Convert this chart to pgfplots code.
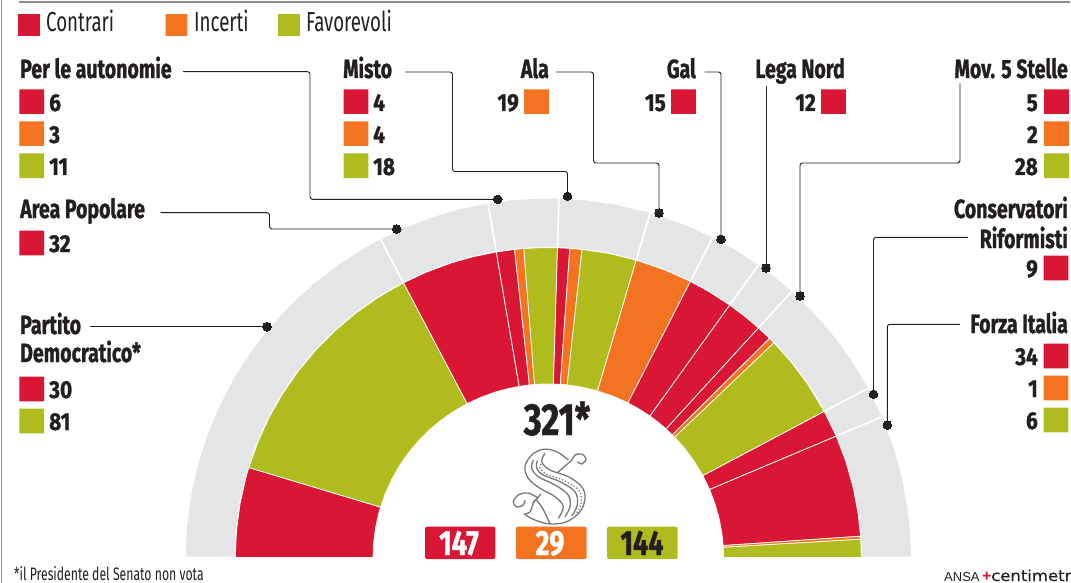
\documentclass[border=0pt]{standalone}
\usepackage{pgfplots}
\pgfplotsset{compat=1.18}
\usepackage{fontspec}
\setmainfont{Fira Sans}
\newfontfamily\lab[FakeStretch=0.74,FakeBold=1]{Fira Sans Bold}
\newfontfamily\numf[FakeStretch=0.85,FakeBold=1]{Fira Sans Bold}
\newfontfamily\reg[FakeStretch=0.68]{Fira Sans}
\newfontfamily\bignum[FakeStretch=0.77,FakeBold=1]{Fira Sans Bold}
\newfontfamily\ansa{Liberation Sans}
\newfontfamily\centi[FakeStretch=1.1,FakeBold=0.5]{DejaVu Sans}
\definecolor{cR}{HTML}{D91734}
\definecolor{cO}{HTML}{F47321}
\definecolor{cG}{HTML}{B0BB1E}
\definecolor{cB}{HTML}{E4E5E7}
\definecolor{ink}{HTML}{231F20}
\definecolor{frame}{HTML}{8C8C8C}
\definecolor{logo}{HTML}{787878}
\pgfdeclareplotmark{rsq}{%
  \pgfsetcornersarced{\pgfpoint{3.5pt}{3.5pt}}%
  \pgfpathmoveto{\pgfpoint{0pt}{-\pgfplotmarksize}}%
  \pgfpathlineto{\pgfpoint{\pgfplotmarksize}{-\pgfplotmarksize}}%
  \pgfpathlineto{\pgfpoint{\pgfplotmarksize}{\pgfplotmarksize}}%
  \pgfpathlineto{\pgfpoint{-\pgfplotmarksize}{\pgfplotmarksize}}%
  \pgfpathlineto{\pgfpoint{-\pgfplotmarksize}{-\pgfplotmarksize}}%
  \pgfpathclose
  \pgfusepathqfill}
\newcommand{\LL}[3]{\node[anchor=base west,inner sep=0pt,text=ink,font=\lab\fontsize{26.4}{26.4}\selectfont] at (axis cs:#1,#2) {#3};}
\newcommand{\LR}[3]{\node[anchor=base east,inner sep=0pt,text=ink,font=\lab\fontsize{26.4}{26.4}\selectfont] at (axis cs:#1,#2) {#3};}
\newcommand{\NL}[3]{\node[anchor=base west,inner sep=0pt,text=ink,font=\numf\fontsize{24.5}{24.5}\selectfont] at (axis cs:#1,#2) {#3};}
\newcommand{\NR}[3]{\node[anchor=base east,inner sep=0pt,text=ink,font=\numf\fontsize{24.5}{24.5}\selectfont] at (axis cs:#1,#2) {#3};}
\begin{document}
\begin{tikzpicture}[x=1pt,y=1pt]
\path[use as bounding box] (0,0) rectangle (1071,583);
\clip (0,0) rectangle (1071,583);
\begin{axis}[at={(0,0)},anchor=south west,x=1pt,y=0.99pt,hide axis,
  xmin=-548.3,xmax=522.7,ymin=-25.76,ymax=563.13,clip=true,
  gb/.style={data cs=polar,fill=cB,draw=white,line width=1.6pt,forget plot},
  wR/.style={data cs=polar,fill=cR,draw=white,line width=0.75pt,forget plot},
  wO/.style={data cs=polar,fill=cO,draw=white,line width=0.75pt,forget plot},
  wG/.style={data cs=polar,fill=cG,draw=white,line width=0.75pt,forget plot}]
% grey outer band, one sector per group
\addplot[gb] coordinates {(180,363.5)(175,363.5)(170,363.5)(165,363.5)(160,363.5)(155,363.5)(150,363.5)(145,363.5)(140,363.5)(135,363.5)(130,363.5)(125,363.5)(120,363.5)(117.5625,363.5)(117.5625,313)(120,313)(125,313)(130,313)(135,313)(140,313)(145,313)(150,313)(155,313)(160,313)(165,313)(170,313)(175,313)(180,313)} -- cycle;
\addplot[gb] coordinates {(117.5625,363.5)(113,363.5)(108,363.5)(104,363.5)(99.5625,363.5)(99.5625,313)(104,313)(108,313)(113,313)(117.5625,313)} -- cycle;
\addplot[gb] coordinates {(99.5625,363.5)(96,363.5)(92,363.5)(88.3125,363.5)(88.3125,313)(92,313)(96,313)(99.5625,313)} -- cycle;
\addplot[gb] coordinates {(88.3125,363.5)(84,363.5)(79,363.5)(73.6875,363.5)(73.6875,313)(79,313)(84,313)(88.3125,313)} -- cycle;
\addplot[gb] coordinates {(73.6875,363.5)(68,363.5)(63,363.5)(63,313)(68,313)(73.6875,313)} -- cycle;
\addplot[gb] coordinates {(63,363.5)(59,363.5)(54.5625,363.5)(54.5625,313)(59,313)(63,313)} -- cycle;
\addplot[gb] coordinates {(54.5625,363.5)(51,363.5)(47.8125,363.5)(47.8125,313)(51,313)(54.5625,313)} -- cycle;
\addplot[gb] coordinates {(47.8125,363.5)(43,363.5)(38,363.5)(33,363.5)(28.125,363.5)(28.125,313)(33,313)(38,313)(43,313)(47.8125,313)} -- cycle;
\addplot[gb] coordinates {(28.125,363.5)(23.0625,363.5)(23.0625,313)(28.125,313)} -- cycle;
\addplot[gb] coordinates {(23.0625,363.5)(18,363.5)(13,363.5)(8,363.5)(4,363.5)(0,363.5)(0,313)(4,313)(8,313)(13,313)(18,313)(23.0625,313)} -- cycle;
% coloured sectors, one per count
\addplot[wR] coordinates {(180,313)(175,313)(170,313)(165,313)(163.125,313)(163.125,175.3)(165,175.3)(170,175.3)(175,175.3)(180,175.3)} -- cycle;
\addplot[wG] coordinates {(163.125,313)(158,313)(153,313)(148,313)(143,313)(138,313)(133,313)(128,313)(123,313)(117.5625,313)(117.5625,175.3)(123,175.3)(128,175.3)(133,175.3)(138,175.3)(143,175.3)(148,175.3)(153,175.3)(158,175.3)(163.125,175.3)} -- cycle;
\addplot[wR] coordinates {(117.5625,313)(113,313)(108,313)(104,313)(99.5625,313)(99.5625,175.3)(104,175.3)(108,175.3)(113,175.3)(117.5625,175.3)} -- cycle;
\addplot[wR] coordinates {(99.5625,313)(96.1875,313)(96.1875,175.3)(99.5625,175.3)} -- cycle;
\addplot[wO] coordinates {(96.1875,313)(94.5,313)(94.5,175.3)(96.1875,175.3)} -- cycle;
\addplot[wG] coordinates {(94.5,313)(91.5,313)(88.3125,313)(88.3125,175.3)(91.5,175.3)(94.5,175.3)} -- cycle;
\addplot[wR] coordinates {(88.3125,313)(86.0625,313)(86.0625,175.3)(88.3125,175.3)} -- cycle;
\addplot[wO] coordinates {(86.0625,313)(83.8125,313)(83.8125,175.3)(86.0625,175.3)} -- cycle;
\addplot[wG] coordinates {(83.8125,313)(79,313)(73.6875,313)(73.6875,175.3)(79,175.3)(83.8125,175.3)} -- cycle;
\addplot[wO] coordinates {(73.6875,313)(68,313)(63,313)(63,175.3)(68,175.3)(73.6875,175.3)} -- cycle;
\addplot[wR] coordinates {(63,313)(59,313)(54.5625,313)(54.5625,175.3)(59,175.3)(63,175.3)} -- cycle;
\addplot[wR] coordinates {(54.5625,313)(51,313)(47.8125,313)(47.8125,175.3)(51,175.3)(54.5625,175.3)} -- cycle;
\addplot[wR] coordinates {(47.8125,313)(45,313)(45,175.3)(47.8125,175.3)} -- cycle;
\addplot[wO] coordinates {(45,313)(43.875,313)(43.875,175.3)(45,175.3)} -- cycle;
\addplot[wG] coordinates {(43.875,313)(39,313)(34,313)(28.125,313)(28.125,175.3)(34,175.3)(39,175.3)(43.875,175.3)} -- cycle;
\addplot[wR] coordinates {(28.125,313)(23.0625,313)(23.0625,175.3)(28.125,175.3)} -- cycle;
\addplot[wR] coordinates {(23.0625,313)(18,313)(13,313)(8,313)(3.9375,313)(3.9375,175.3)(8,175.3)(13,175.3)(18,175.3)(23.0625,175.3)} -- cycle;
\addplot[wO] coordinates {(3.9375,313)(3.375,313)(3.375,175.3)(3.9375,175.3)} -- cycle;
\addplot[wG] coordinates {(3.375,313)(0,313)(0,175.3)(3.375,175.3)} -- cycle;
\end{axis}
\begin{axis}[at={(0,0)},anchor=south west,x=1pt,y=1pt,hide axis,y dir=reverse,
  xmin=0,xmax=1071,ymin=0,ymax=583,clip=false,
  lead/.style={color=ink,line width=0.95pt,rounded corners=2.5pt,mark=none,forget plot},
  sqS/.style={only marks,mark=rsq,mark size=10.8pt,mark options={fill=#1},forget plot},
  sqB/.style={only marks,mark=rsq,mark size=12.3pt,mark options={fill=#1},forget plot},
  lg/.style={color=logo,line width=1.3pt,smooth,tension=0.6,mark=none,forget plot}]
% frame
\addplot[color=frame,line width=1.4pt,forget plot] coordinates {(19,2)(1070,2)};
\addplot[color=frame,line width=1.4pt,forget plot] coordinates {(1.7,0)(1.7,583)};
% leader lines
\addplot[lead] coordinates {(183,71.7)(310,71.7)(310,199.3)(497.7,199.3)};
\addplot[lead] coordinates {(405,72)(452.5,72)(452.5,171.5)(567.5,171.5)(567.5,196.3)};
\addplot[lead] coordinates {(555.5,72)(593.5,72)(593.5,163)(659,163)(659,213)};
\addplot[lead] coordinates {(704.5,72)(721,72)(721,239.3)};
\addplot[lead] coordinates {(766,86)(766,268)};
\addplot[lead] coordinates {(960,83.5)(960,163)(800,163)(800,296)};
\addplot[lead] coordinates {(968,237.3)(873.5,237.3)(873.5,394.3)};
\addplot[lead] coordinates {(960,324.3)(887.3,324.3)(887.3,425)};
\addplot[lead] coordinates {(160.5,212.7)(269.5,212.7)(269.5,229)(396.7,229)};
\addplot[lead] coordinates {(90,326.7)(267,326.7)};
\addplot[only marks,mark=*,mark size=4.3pt,mark options={draw=ink,fill=ink,line width=0pt},forget plot] coordinates {(497.7,199.3)(567.5,196.3)(659,213)(721,239.3)(766,268)(800,296)(873.5,394.3)(887.3,425)(396.7,229)(267,326.7)};
% key
\addplot[sqS=cR] coordinates {(29,25)};
\addplot[sqS=cO] coordinates {(176.5,25)};
\addplot[sqS=cG] coordinates {(289,25)};
\node[anchor=base west,inner sep=0pt,text=ink,font=\reg\fontsize{27.5}{27.5}\selectfont] at (axis cs:46,32) {Contrari};
\node[anchor=base west,inner sep=0pt,text=ink,font=\reg\fontsize{27.5}{27.5}\selectfont] at (axis cs:194,32) {Incerti};
\node[anchor=base west,inner sep=0pt,text=ink,font=\reg\fontsize{27.5}{27.5}\selectfont] at (axis cs:306,32) {Favorevoli};
% group squares
\addplot[sqB=cR] coordinates {(31.7,101.7)(356,101.7)(683.5,101.7)(833.5,101.7)(1056.5,101.7)(31.7,243)(31.7,389)(1056,268)(1056,356)};
\addplot[sqB=cO] coordinates {(31.7,133.7)(356,133.7)(536.5,101.7)(1056.5,133.7)(1056,388)};
\addplot[sqB=cG] coordinates {(31.7,165.7)(356,165.7)(1056.5,165.7)(31.7,421)(1056,420)};
% group names and counts
\LL{20}{78}{Per le autonomie}
\NL{49}{111}{6}\NL{49}{143}{3}\NL{49}{175}{11}
\LL{343}{78}{Misto}
\NL{373}{111}{4}\NL{373}{143}{4}\NL{373}{175}{18}
\LR{549}{78}{Ala}\NR{519}{111}{19}
\LR{696}{78}{Gal}\NR{666}{111}{15}
\LR{845}{78}{Lega Nord}\NR{816}{111}{12}
\LR{1068}{78}{Mov. 5 Stelle}
\NR{1038}{111}{5}\NR{1038}{143}{2}\NR{1038}{175}{28}
\LL{20}{218}{Area Popolare}\NL{49}{252}{32}
\LL{20}{334}{Partito}\LL{20}{362}{Democratico*}
\NL{49}{398}{30}\NL{49}{430}{81}
\LR{1068}{218}{Conservatori}\LR{1068}{248}{Riformisti}\NR{1038}{277}{9}
\LR{1068}{333}{Forza Italia}
\NR{1038}{365}{34}\NR{1038}{397}{1}\NR{1038}{429}{6}
% total boxes
\addplot[fill=cR,draw=none,rounded corners=2pt,forget plot] coordinates {(425,526.7)(495.3,526.7)(495.3,559)(425,559)} -- cycle;
\addplot[fill=cO,draw=none,rounded corners=2pt,forget plot] coordinates {(516,526.7)(586.7,526.7)(586.7,559)(516,559)} -- cycle;
\addplot[fill=cG,draw=none,rounded corners=2pt,forget plot] coordinates {(607,526.7)(677.7,526.7)(677.7,559)(607,559)} -- cycle;
\node[anchor=base,inner sep=0pt,text=white,font=\bignum\fontsize{35}{35}\selectfont] at (axis cs:459,555) {147};
\node[anchor=base,inner sep=0pt,text=white,font=\bignum\fontsize{35}{35}\selectfont] at (axis cs:550,555) {29};
\node[anchor=base,inner sep=0pt,text=ink,font=\bignum\fontsize{35}{35}\selectfont] at (axis cs:642,555) {144};
\node[anchor=base,inner sep=0pt,text=ink,font=\bignum\fontsize{45}{45}\selectfont] at (axis cs:557,435) {321*};
% monogram
\addplot[lg] coordinates {(568.3,460)(556.7,451.7)(543.3,449.3)(531.7,455)(525,466.7)(528.3,478.3)(540,488.3)(555,496.7)(563.3,506.7)(558.3,518.3)};
\addplot[lg] coordinates {(545,453.3)(541.7,461.7)(550,470)(568.3,476.7)(581.7,486.7)(585,498.3)(580,511.7)(566.7,521.7)(550,524)(535,520)(524,514)};
\addplot[lg] coordinates {(533.3,460)(531.7,468.3)(538.3,476.7)(555,485)(568.3,495)(570,506.7)(565,516.7)};
\addplot[lg] coordinates {(537.3,460.7)(536.7,468.3)(543.3,475)(560,481.7)(575,491.7)(577.3,505)(571.7,516)};
\addplot[lg,dotted] coordinates {(541,464)(540,468)(547,474.5)(563,480)(579,490.5)(581,504)(576,514)};
\addplot[lg] coordinates {(572,460)(557,473)};
\addplot[lg] coordinates {(541,494)(533,503)};
\addplot[lg] coordinates {(572,460)(575,455)(581.7,454)(586,459)(581.7,464)(577.3,461.7)};
\addplot[lg] coordinates {(538,498)(528,493)(518.3,495)(513.3,501.7)(516.7,507)(523.3,505)(525,500)};
\addplot[lg] coordinates {(524,514)(530,512)(535,500)(541,506)(545,513)(550,524)};
% foot
\node[anchor=base west,inner sep=0pt,text=ink,font=\reg\fontsize{18}{18}\selectfont] at (axis cs:14,580) {*il Presidente del Senato non vota};
\node[anchor=base west,inner sep=0pt,text=ink,font=\ansa\fontsize{13}{13}\selectfont] at (axis cs:944,581) {ANSA};
\node[anchor=base west,inner sep=0pt,text=cR,font=\ansa\bfseries\fontsize{16}{16}\selectfont] at (axis cs:982,581) {+};
\node[anchor=base west,inner sep=0pt,text=ink,font=\centi\fontsize{15}{15}\selectfont] at (axis cs:991,581) {centimetr};
\end{axis}
\end{tikzpicture}
\end{document}
